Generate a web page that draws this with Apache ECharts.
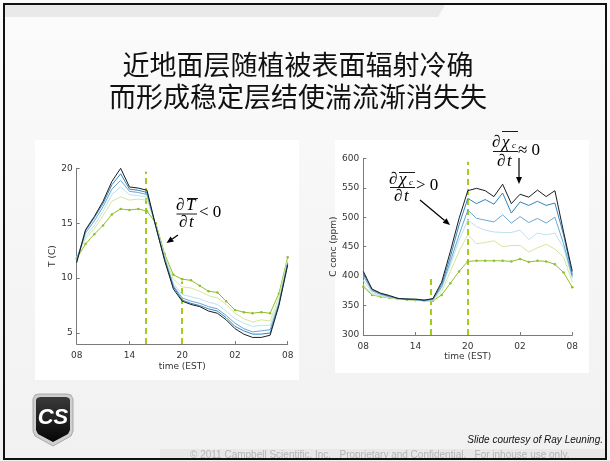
<!DOCTYPE html>
<html>
<head>
<meta charset="utf-8">
<script src="https://cdn.jsdelivr.net/npm/echarts@6/dist/echarts.min.js"></script>
<style>
  html, body { margin: 0; padding: 0; background: #ffffff; }
  #chart { width: 610px; height: 461px; }
</style>
</head>
<body>
<div id="chart"></div>
<script>
// Hours after 08:00 EST, one sample per hour over a full day
const hours = [0,1,2,3,4,5,6,7,8,9,10,11,12,13,14,15,16,17,18,19,20,21,22,23,24];
const tickHours = [0, 6, 12, 18, 24];
const tickLabels = ['08', '14', '20', '02', '08'];

// Air temperature (C) at six heights, from top level (black) to lowest (green)
const tempLevel1 = [11.4,14.4,15.6,17.0,18.8,20.0,18.3,18.2,18.0,14.7,11.6,9.0,7.9,7.6,7.4,7.0,6.8,6.2,5.4,4.9,4.6,4.6,4.8,7.5,11.2];
const tempLevel2 = [11.6,14.3,15.5,16.8,18.5,19.5,18.1,18.0,17.8,14.7,11.7,9.2,8.0,7.7,7.5,7.2,7.0,6.4,5.6,5.2,4.9,4.9,5.0,7.6,11.3];
const tempLevel3 = [11.7,14.1,15.2,16.5,18.1,18.9,17.9,17.8,17.6,14.7,11.8,9.3,8.2,7.9,7.7,7.4,7.2,6.6,5.9,5.4,5.1,5.2,5.3,7.7,11.4];
const tempLevel4 = [11.8,13.8,14.8,16.1,17.6,18.3,17.6,17.5,17.4,14.8,11.9,9.5,8.5,8.3,8.1,7.8,7.6,7.0,6.3,5.9,5.6,5.7,5.7,7.9,11.5];
const tempLevel5 = [11.9,13.6,14.5,15.7,17.0,17.4,17.1,17.2,17.1,14.9,12.0,9.9,9.2,9.1,8.8,8.4,8.2,7.6,6.8,6.3,6.0,6.2,6.1,8.3,11.7];
const tempLevel6 = [11.8,13.1,14.0,14.8,15.8,16.3,16.2,16.3,16.1,15.0,12.2,10.3,9.9,9.8,9.3,8.8,8.7,7.9,7.1,6.9,6.8,6.9,6.8,8.6,11.9];

// CO2 concentration (ppm) at the same six heights
const co2Level1 = [408,378,371,367,362,361,361,359,362,390,442,498,545,549,545,535,556,523,539,534,546,535,545,475,408];
const co2Level2 = [405,377,370,366,362,361,360,359,361,386,433,487,532,523,530,522,541,507,526,520,527,520,524,470,402];
const co2Level3 = [400,375,369,365,362,361,360,359,360,382,425,470,512,498,495,492,504,490,501,491,498,490,500,455,399];
const co2Level4 = [393,372,367,364,361,360,360,358,359,379,419,461,495,484,478,475,474,474,478,462,473,470,473,448,396];
const co2Level5 = [386,369,366,363,361,360,359,358,358,374,408,442,470,455,457,460,450,452,452,441,448,454,446,432,390];
const co2Level6 = [382,368,365,363,361,360,359,358,358,368,388,408,425,426,426,426,426,425,429,424,426,425,420,406,381];

// Transition times (hours after 08:00) and the heights the dashed guides reach
const tempGuides = [[7.8, 4, 19.7], [12, 4, 9.7]];
const co2Guides = [[7.7, 300, 400], [12, 300, 594]];

const levelColors = ['#1c1c1c', '#2f86bd', '#6aa6cf', '#bfe0ec', '#d3e79b', '#8fbf2a'];
const guideColor = '#a3cc1e';

const axisFont = 'DejaVu Sans';
const chart = echarts.init(document.getElementById('chart'), null, { renderer: 'canvas' });

function pairs(values) {
  return hours.map((h, i) => [h, values[i]]);
}

function xAxisFor(gridIndex) {
  return {
    type: 'value', gridIndex, min: 0, max: 24, interval: 6,
    name: 'time (EST)', nameLocation: 'middle', nameGap: gridIndex === 0 ? 18 : 17,
    nameTextStyle: { fontFamily: axisFont, fontSize: 9, color: '#333' },
    axisLine: { lineStyle: { color: '#7a7a7a', width: 1 } },
    axisTick: { inside: true, length: 3, lineStyle: { color: '#7a7a7a' } },
    axisLabel: {
      margin: 7, fontFamily: axisFont, fontSize: 9, color: '#333',
      formatter: v => { const k = tickHours.indexOf(v); return k >= 0 ? tickLabels[k] : ''; }
    },
    splitLine: { show: false }
  };
}

function guideLines(guides) {
  return guides.map(g => [{ coord: [g[0], g[1]] }, { coord: [g[0], g[2]] }]);
}

function levelSeries(list, axisIndex, guides) {
  return list.map((vals, i) => {
    const s = {
      type: 'line', xAxisIndex: axisIndex, yAxisIndex: axisIndex,
      data: pairs(vals), smooth: false, animation: false,
      lineStyle: { color: levelColors[i], width: 1 },
      itemStyle: { color: levelColors[i] },
      showSymbol: i === 5, symbol: 'circle', symbolSize: 2.5,
      z: 10 - i
    };
    if (i === 5) {
      s.markLine = {
        silent: true, symbol: 'none', animation: false,
        label: { show: false },
        lineStyle: { color: guideColor, width: 2, type: [6, 4] },
        data: guideLines(guides)
      };
    }
    return s;
  });
}

function arrow(x1, y1, x2, y2) {
  const a = Math.atan2(y2 - y1, x2 - x1), L = 7, W = 3;
  const bx = x2 - L * Math.cos(a), by = y2 - L * Math.sin(a);
  const px = -Math.sin(a) * W, py = Math.cos(a) * W;
  return [
    { type: 'line', shape: { x1, y1, x2: bx, y2: by }, style: { stroke: '#000', lineWidth: 1.2 } },
    { type: 'polygon', shape: { points: [[x2, y2], [bx + px, by + py], [bx - px, by - py]] }, style: { fill: '#000' } }
  ];
}

const serif = 'Liberation Serif';
function mathText(x, y, text, size, italic, align) {
  return { type: 'text', x, y, style: { text, font: (italic ? 'italic ' : '') + size + 'px "' + serif + '"', fill: '#000', textAlign: align || 'left', textVerticalAlign: 'middle' } };
}
function hline(x1, x2, y) {
  return { type: 'line', shape: { x1, y1: y, x2, y2: y }, style: { stroke: '#000', lineWidth: 0.9 } };
}

const graphics = [
  // slide background and frame
  { type: 'rect', shape: { x: 0, y: 0, width: 610, height: 461 }, style: { fill: new echarts.graphic.LinearGradient(0, 0, 0, 1, [{ offset: 0, color: '#fbfbfb' }, { offset: 1, color: '#f1f1f1' }]) }, z: -20 },
  { type: 'polygon', shape: { points: [[5, 5], [445, 5], [438, 17], [5, 17]] }, style: { fill: '#e9e9e9' }, z: -19 },
  { type: 'rect', shape: { x: 35, y: 140, width: 264, height: 240 }, style: { fill: '#ffffff' }, z: -18 },
  { type: 'rect', shape: { x: 335, y: 140, width: 254, height: 233 }, style: { fill: '#ffffff' }, z: -18 },
  { type: 'rect', shape: { x: 160, y: 449, width: 446, height: 10 }, style: { fill: '#e8e8e8' }, z: -18 },
  { type: 'rect', shape: { x: 4, y: 4, width: 602, height: 455 }, style: { fill: 'none', stroke: '#111', lineWidth: 2 }, z: 50 },

  // title
  { type: 'text', x: 298, y: 65, style: { text: '近地面层随植被表面辐射冷确', font: '27px "Noto Sans CJK SC"', fill: '#111', textAlign: 'center', textVerticalAlign: 'middle' } },
  { type: 'text', x: 298, y: 97, style: { text: '而形成稳定层结使湍流渐消失失', font: '27px "Noto Sans CJK SC"', fill: '#111', textAlign: 'center', textVerticalAlign: 'middle' } },

  // temperature annotation: dT/dt < 0
  mathText(176, 206, '\u2202', 17, false),
  mathText(186, 206, 'T', 17, true),
  hline(187, 198, 198.5),
  hline(176.5, 197, 214),
  mathText(179, 223, '\u2202', 17, false),
  mathText(189, 223, 't', 17, true),
  mathText(199, 213, '< 0', 17, false),
  ...arrow(178, 235, 166.5, 243),

  // CO2 annotation: d(chi_c)/dt > 0
  mathText(389, 180, '\u2202', 17, false),
  mathText(399, 180, '\u03c7', 17, true),
  mathText(409, 183, 'c', 9, true),
  hline(399, 415, 172.5),
  hline(390, 415, 187.5),
  mathText(394, 196.5, '\u2202', 17, false),
  mathText(404, 196.5, 't', 17, true),
  mathText(416, 186, '> 0', 17, false),
  ...arrow(420, 200, 450, 225),

  // CO2 annotation: d(chi_c)/dt ~ 0
  mathText(492, 143, '\u2202', 17, false),
  mathText(502, 143, '\u03c7', 17, true),
  mathText(512, 146, 'c', 9, true),
  hline(502, 518, 131.5),
  hline(493, 518, 151.5),
  mathText(497, 161.5, '\u2202', 17, false),
  mathText(507, 161.5, 't', 17, true),
  mathText(518, 151, '\u2248 0', 17, false),
  ...arrow(519, 158, 519, 184),

  // logo
  { type: 'polygon', shape: { points: [[33, 399], [35, 395], [39, 394], [67, 394], [71, 395], [73, 399], [73, 431], [71, 436], [53, 446], [35, 436], [33, 431]] }, style: { fill: '#cfcfcf', stroke: '#9a9a9a', lineWidth: 0.8 } },
  { type: 'polygon', shape: { points: [[36, 400], [37, 398], [40, 397], [66, 397], [69, 398], [70, 400], [70, 430], [68, 434], [53, 442], [38, 434], [36, 430]] }, style: { fill: new echarts.graphic.LinearGradient(0, 0, 0, 1, [{ offset: 0, color: '#3a3a3a' }, { offset: 1, color: '#050505' }]) } },
  { type: 'text', x: 53, y: 418, style: { text: 'CS', font: 'italic bold 22px "Liberation Sans"', fill: '#ffffff', textAlign: 'center', textVerticalAlign: 'middle' } },

  // footer
  { type: 'text', x: 603, y: 440, style: { text: 'Slide courtesy of Ray Leuning.', font: 'italic 10px "Liberation Sans"', fill: '#111', textAlign: 'right', textVerticalAlign: 'middle' } },
  { type: 'text', x: 190, y: 455, style: { text: '\u00a9 2011 Campbell Scientific, Inc.   Proprietary and Confidential.   For inhouse use only.', font: '10px "Liberation Sans"', fill: '#b4b4b4', textAlign: 'left', textVerticalAlign: 'middle' } }
];

const option = {
  animation: false,
  backgroundColor: 'transparent',
  grid: [
    { left: 76.7, right: 610 - 287.7, top: 168.3, bottom: 461 - 344 },
    { left: 363.3, right: 610 - 572.3, top: 158.3, bottom: 461 - 335 }
  ],
  xAxis: [xAxisFor(0), xAxisFor(1)],
  yAxis: [
    {
      type: 'value', gridIndex: 0, min: 4, max: 20,
      name: 'T (C)', nameLocation: 'middle', nameGap: 20, nameRotate: 90,
      nameTextStyle: { fontFamily: axisFont, fontSize: 9, color: '#333' },
      axisLine: { show: true, lineStyle: { color: '#7a7a7a', width: 1 } },
      axisTick: { show: true, inside: true, length: 3, customValues: [5, 10, 15, 20], lineStyle: { color: '#7a7a7a' } },
      axisLabel: { margin: 4, customValues: [5, 10, 15, 20], fontFamily: axisFont, fontSize: 9, color: '#333' },
      splitLine: { show: false }
    },
    {
      type: 'value', gridIndex: 1, min: 300, max: 600, interval: 50,
      name: 'C conc (ppm)', nameLocation: 'middle', nameGap: 25, nameRotate: 90,
      nameTextStyle: { fontFamily: axisFont, fontSize: 9, color: '#333' },
      axisLine: { show: true, lineStyle: { color: '#7a7a7a', width: 1 } },
      axisTick: { show: true, inside: true, length: 3, lineStyle: { color: '#7a7a7a' } },
      axisLabel: { margin: 4, fontFamily: axisFont, fontSize: 9, color: '#333' },
      splitLine: { show: false }
    }
  ],
  graphic: { elements: graphics },
  series: [
    ...levelSeries([tempLevel1, tempLevel2, tempLevel3, tempLevel4, tempLevel5, tempLevel6], 0, tempGuides),
    ...levelSeries([co2Level1, co2Level2, co2Level3, co2Level4, co2Level5, co2Level6], 1, co2Guides)
  ]
};

chart.setOption(option);
</script>
</body>
</html>
